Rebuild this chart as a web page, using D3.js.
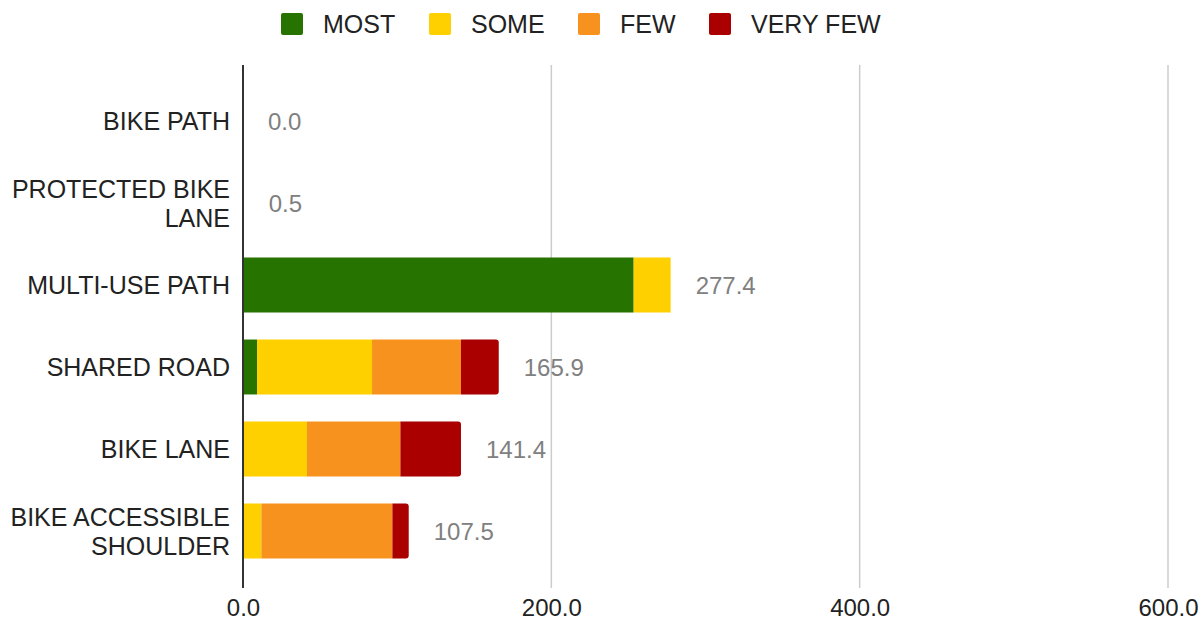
<!DOCTYPE html>
<html><head><meta charset="utf-8">
<script src="https://cdn.jsdelivr.net/npm/d3@7"></script>
<style>body{margin:0;background:#fff;}svg{display:block;font-family:"Liberation Sans",Arial,sans-serif;}</style>
</head><body><svg id="c" width="1204" height="629"></svg>
<script>
const categories = [["BIKE PATH"], ["PROTECTED BIKE","LANE"], ["MULTI-USE PATH"], ["SHARED ROAD"], ["BIKE LANE"], ["BIKE ACCESSIBLE","SHOULDER"]];
const seriesNames = ["MOST","SOME","FEW","VERY FEW"];
const seriesColors = ["#267300","#ffd000","#f7921e","#aa0000"];
const most    = [0, 0,   253.4, 9.1,  0,    0];
const some    = [0, 0.5, 24.0,  74.6, 41.5, 11.9];
const few     = [0, 0,   0,     57.7, 60.6, 85.0];
const veryFew = [0, 0,   0,     24.5, 39.3, 10.6];
const totals  = [0.0, 0.5, 277.4, 165.9, 141.4, 107.5];
const xTicks  = [0, 200, 400, 600];

const svg = d3.select("#c");
const keys = categories.map(c => c.join(" "));
const x = d3.scaleLinear().domain([0,600]).range([243,1168]);
const y = d3.scaleBand().domain(keys).range([80,572]).paddingInner(0.33).paddingOuter(0.165);
const rows = keys.map((k,i)=>({key:k, MOST:most[i], SOME:some[i], FEW:few[i], "VERY FEW":veryFew[i]}));
const stack = d3.stack().keys(seriesNames)(rows);
const color = d3.scaleOrdinal().domain(seriesNames).range(seriesColors);

// gridlines
svg.append("g").selectAll("line").data(xTicks.filter(d=>d>0)).join("line")
  .attr("x1",d=>x(d)).attr("x2",d=>x(d)).attr("y1",65).attr("y2",588)
  .attr("stroke","#cccccc").attr("stroke-width",1.5);

// bars
const lastIdx = rows.map(r => { let li=-1; seriesNames.forEach((s,j)=>{ if(r[s]>0) li=j; }); return li; });
function roundRightPath(x0,x1,y0,h,r){
  r=Math.min(r,(x1-x0),h/2);
  return `M${x0},${y0}H${x1-r}Q${x1},${y0} ${x1},${y0+r}V${y0+h-r}Q${x1},${y0+h} ${x1-r},${y0+h}H${x0}Z`;
}
stack.forEach((layer,j)=>{
  svg.append("g").selectAll("path").data(layer).join("path")
    .attr("fill", color(layer.key))
    .attr("d",(d,i)=>{
      const x0=x(d[0]), x1=x(d[1]);
      if(x1-x0<=0) return "";
      const y0=y(keys[i]), h=y.bandwidth();
      if(lastIdx[i]===j && keys[i]!=="MULTI-USE PATH") return roundRightPath(x0,x1,y0,h,3);
      return `M${x0},${y0}H${x1}V${y0+h}H${x0}Z`;
    });
});

// axis line
svg.append("line").attr("x1",x(0)).attr("x2",x(0)).attr("y1",65).attr("y2",588)
  .attr("stroke","#333").attr("stroke-width",2);

// x tick labels
const xAxis = d3.axisBottom(x).tickValues(xTicks).tickFormat(d3.format(".1f")).tickSize(0).tickPadding(0);
const gx = svg.append("g").attr("transform","translate(0,603)").call(xAxis);
gx.select(".domain").remove();
gx.selectAll("text").attr("font-size",24).attr("fill","#222").attr("font-family","Liberation Sans, Arial, sans-serif").attr("dy","0.55em");

// category labels
categories.forEach((lines,i)=>{
  const cy = y(keys[i]) + y.bandwidth()/2;
  const lh = 29;
  const t = svg.append("text").attr("text-anchor","end").attr("font-size",25).attr("fill","#222");
  lines.forEach((ln,k)=>{
    t.append("tspan").attr("x",230).attr("y", cy + (k-(lines.length-1)/2)*lh).attr("dy","0.36em").text(ln);
  });
});

// value labels
svg.append("g").selectAll("text").data(totals).join("text")
  .attr("x",d=>x(d)+25).attr("y",(d,i)=>y(keys[i])+y.bandwidth()/2).attr("dy","0.36em")
  .attr("font-size",24).attr("fill","#808080").text(d=>d3.format(".1f")(d));

// legend
const legX = [281,429,578,709];
const lg = svg.append("g");
seriesNames.forEach((s,i)=>{
  lg.append("rect").attr("x",legX[i]).attr("y",13).attr("width",22).attr("height",22).attr("rx",2)
    .attr("fill",seriesColors[i]);
  lg.append("text").attr("x",legX[i]+42).attr("y",24).attr("dy","0.36em").attr("font-size",25).attr("fill","#222").text(s);
});
</script></body></html>
